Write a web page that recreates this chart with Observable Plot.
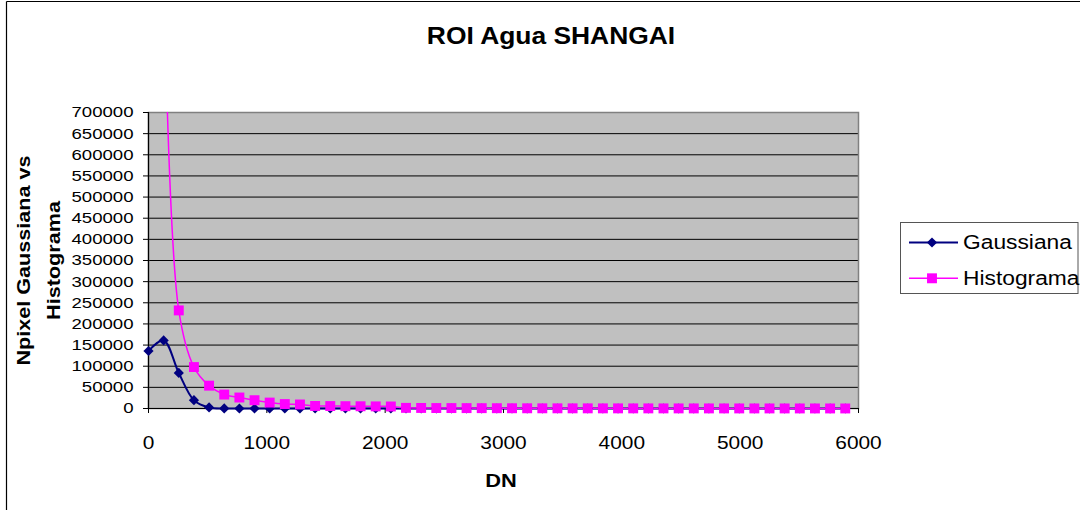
<!DOCTYPE html>
<html><head><meta charset="utf-8">
<script src="https://cdn.jsdelivr.net/npm/d3@7"></script>
<script src="https://cdn.jsdelivr.net/npm/@observablehq/plot@0.6"></script>
<style>
html,body{margin:0;padding:0;background:#fff;}
#chart{position:relative;width:1080px;height:510px;overflow:hidden;}
</style></head><body><div id="chart"></div>
<script>
const title = "ROI Agua SHANGAI";
const xLabel = "DN";
const yLabelLines = ["Npixel Gaussiana vs", "Histograma"];
const seriesNames = ["Gaussiana", "Histograma"];
const seriesColors = ["#000080", "#FF00FF"];
const xTicks = [0, 1000, 2000, 3000, 4000, 5000, 6000];
const yTicks = [0, 50000, 100000, 150000, 200000, 250000, 300000, 350000, 400000, 450000, 500000, 550000, 600000, 650000, 700000];
const dn = [0,128,256,384,512,640,768,896,1024,1152,1280,1408,1536,1664,1792,1920,2048,2176,2304,2432,2560,2688,2816,2944,3072,3200,3328,3456,3584,3712,3840,3968,4096,4224,4352,4480,4608,4736,4864,4992,5120,5248,5376,5504,5632,5760,5888];
const gaussiana = [136000,161000,84000,19600,2500,100,0,0,0,0,0,0,0,0,0,0,0,0,0,0,0,0,0,0,0,0,0,0,0,0,0,0,0,0,0,0,0,0,0,0,0,0,0,0,0,0,0];
const histograma = [null,1050000,232000,98000,54000,33000,26000,19600,14000,10500,9500,6000,5800,5500,5300,5000,4800,1500,1300,1100,1000,900,800,700,600,500,450,400,380,350,320,300,280,260,240,220,200,190,180,170,160,150,140,130,120,110,100];

const gRows = dn.map((d, i) => ({dn: d, value: gaussiana[i]}));
const hRows = dn.map((d, i) => ({dn: d, value: histograma[i]}));
const FONT = "Liberation Sans, Arial, Helvetica, sans-serif";
const rG = 4.6, rH = 5.6;

const svg = Plot.plot({
  width: 1080, height: 510,
  marginLeft: 148, marginRight: 222, marginTop: 112, marginBottom: 102,
  style: {fontFamily: FONT, color: "#000", background: "transparent", overflow: "visible"},
  x: {domain: [0, 6000]},
  y: {domain: [0, 700000]},
  marks: [
    Plot.frame({fill: "#C0C0C0", stroke: null}),
    Plot.gridY(yTicks, {stroke: "#000", strokeOpacity: 1, strokeWidth: 1}),
    Plot.frame({stroke: "#808080", strokeWidth: 1.5}),
    Plot.ruleX([0], {stroke: "#000", strokeWidth: 1.2}),
    Plot.ruleY([0], {stroke: "#000", strokeWidth: 1.2}),
    Plot.axisY(yTicks, {tickSize: 5, tickPadding: 10, tickFormat: d => String(d), fontSize: 15.5, label: null}),
    Plot.axisX(xTicks, {tickSize: 5, tickPadding: 22, tickFormat: d => String(d), fontSize: 18.5, label: null}),
    Plot.line(gRows, {x: "dn", y: "value", stroke: seriesColors[0], strokeWidth: 2, curve: "catmull-rom"}),
    Plot.line(hRows.filter(d => d.value != null), {x: "dn", y: "value", stroke: seriesColors[1], strokeWidth: 1.5, curve: "catmull-rom", clip: true}),
    Plot.dot(gRows, {x: "dn", y: "value", symbol: "diamond2", r: rG, fill: seriesColors[0], stroke: null}),
    Plot.dot(hRows, {x: "dn", y: "value", symbol: "square", r: rH, fill: seriesColors[1], stroke: null})
  ]
});
document.getElementById("chart").appendChild(svg);
const s = d3.select(svg);

// extend clip downward slightly so the zero-level stroke isn't halved
s.selectAll("clipPath rect").each(function() {
  const r = d3.select(this);
  const h = +r.attr("height");
  if (!isNaN(h)) r.attr("height", h + 6);
});

// Excel-like wide glyph advance
function widen(sel, k) {
  s.selectAll(sel).each(function() {
    const t = d3.select(this);
    const tr = t.attr("transform");
    if (tr) t.attr("transform", tr + ` scale(${k},1)`);
  });
}
widen('g[aria-label="y-axis tick label"] text', 1.2);
widen('g[aria-label="x-axis tick label"] text', 1.13);

// outer chart border
s.append("line").attr("x1", 6.5).attr("x2", 6.5).attr("y1", 1.5).attr("y2", 510).attr("stroke", "#000").attr("stroke-width", 1.2);
s.append("line").attr("x1", 6.5).attr("x2", 1080).attr("y1", 1.5).attr("y2", 1.5).attr("stroke", "#000").attr("stroke-width", 1.2);

// title
s.append("text").attr("transform", "translate(551,44.3) scale(1.1,1)")
  .attr("text-anchor", "middle").attr("font-family", FONT).attr("font-weight", "bold").attr("font-size", 24).text(title);
// x label
s.append("text").attr("transform", "translate(501,486.7) scale(1.18,1)")
  .attr("text-anchor", "middle").attr("font-family", FONT).attr("font-weight", "bold").attr("font-size", 18.5).text(xLabel);
// y label
const yBase = [30, 59.6];
yLabelLines.forEach((t, i) => {
  s.append("text").attr("transform", `translate(${yBase[i]},260.5) rotate(-90) scale(1.2,1)`)
    .attr("text-anchor", "middle").attr("font-family", FONT).attr("font-weight", "bold").attr("font-size", 18).text(t);
});

// legend
const lg = s.append("g");
lg.append("rect").attr("x", 900.5).attr("y", 222.5).attr("width", 177.5).attr("height", 71)
  .attr("fill", "#fff").attr("stroke", "#555").attr("stroke-width", 1);
const rowY = [242.5, 278.3];
const baseY = [248.5, 285];
const sym = [d3.symbol(d3.symbolDiamond2, Math.PI * rG * rG), d3.symbol(d3.symbolSquare, Math.PI * rH * rH)];
seriesNames.forEach((name, i) => {
  lg.append("line").attr("x1", 909).attr("x2", 958).attr("y1", rowY[i]).attr("y2", rowY[i])
    .attr("stroke", seriesColors[i]).attr("stroke-width", i === 0 ? 2 : 1.5);
  lg.append("path").attr("d", sym[i]()).attr("transform", `translate(932,${rowY[i]})`).attr("fill", seriesColors[i]);
  lg.append("text").attr("transform", `translate(963,${baseY[i]}) scale(1.085,1)`)
    .attr("text-anchor", "start").attr("font-family", FONT).attr("font-size", 21).attr("fill", "#000").text(name);
});
</script></body></html>
